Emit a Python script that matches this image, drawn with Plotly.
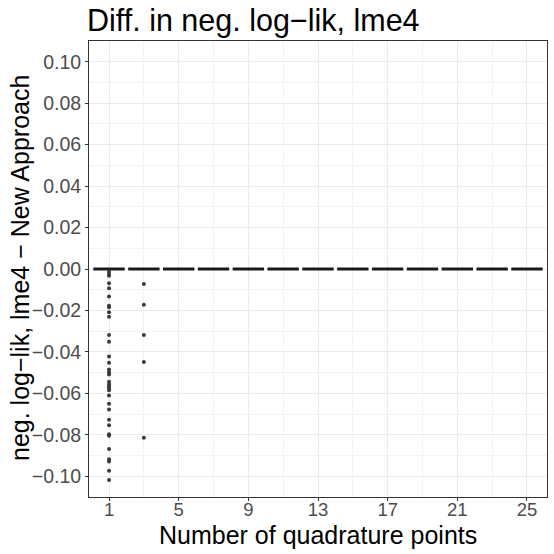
import plotly.graph_objects as go

# quadrature point groups (boxes)
quad_points = [1, 3, 5, 7, 9, 11, 13, 15, 17, 19, 21, 23, 25]
box_q1 = [0.0] * 13
box_median = [0.0] * 13
box_q3 = [0.0] * 13
box_lower = [0.0] * 13
box_upper = [0.0] * 13

# outliers
outliers_q1 = [-0.0013, -0.0024, -0.0032, -0.0069, -0.0093, -0.0133, -0.0177, -0.0185,
               -0.0209, -0.0230, -0.0319, -0.0351, -0.0422, -0.0452, -0.0485, -0.0498,
               -0.0509, -0.0544, -0.0556, -0.0566, -0.0577, -0.0585, -0.0610, -0.0650,
               -0.0678, -0.0727, -0.0754, -0.0797, -0.0805, -0.0868, -0.0918, -0.0929,
               -0.0973, -0.1018]
outliers_q3 = [-0.0072, -0.0172, -0.0319, -0.0449, -0.0814]

y_tickvals = [-0.10, -0.08, -0.06, -0.04, -0.02, 0.0, 0.02, 0.04, 0.06, 0.08, 0.10]
y_ticktext = ["\u22120.10", "\u22120.08", "\u22120.06", "\u22120.04", "\u22120.02", "0.00",
              "0.02", "0.04", "0.06", "0.08", "0.10"]
x_tickvals = [1, 5, 9, 13, 17, 21, 25]

fig = go.Figure()
fig.add_trace(go.Box(
    x=quad_points, q1=box_q1, median=box_median, q3=box_q3,
    lowerfence=box_lower, upperfence=box_upper,
    width=1.8, boxpoints=False,
    line=dict(color="#1a1a1a", width=3), fillcolor="white",
    whiskerwidth=0, showlegend=False,
))
fig.add_trace(go.Scatter(
    x=[1] * len(outliers_q1) + [3] * len(outliers_q3),
    y=outliers_q1 + outliers_q3,
    mode="markers",
    marker=dict(color="#3a3a3a", size=4),
    showlegend=False,
))

font_family = "Liberation Sans, Arial, sans-serif"
W, H = 554, 554
ML, MR, MT, MB = 89, 7, 41, 57
fig.update_layout(
    width=W, height=H,
    margin=dict(l=ML, r=MR, t=MT, b=MB, autoexpand=False),
    paper_bgcolor="white", plot_bgcolor="white",
    font=dict(family=font_family, color="black"),
    title=dict(text="Diff. in neg. log\u2212lik, lme4", x=87 / W, xref="container",
               xanchor="left", y=1 - 20 / H, yref="container", yanchor="middle",
               font=dict(size=30.5, color="black")),
    xaxis=dict(
        range=[-0.15, 26.15], tickvals=x_tickvals, ticks="outside", ticklen=3,
        tickcolor="#333333", tickfont=dict(size=18.5, color="#4d4d4d"),
        ticklabelstandoff=-7,
        showgrid=True, gridcolor="#ebebeb", gridwidth=1,
        minor=dict(dtick=2, tick0=1, showgrid=True, gridcolor="#f3f3f3", gridwidth=0.6),
        showline=True, linecolor="#333333", linewidth=1, mirror=True, zeroline=False,
        automargin=False,
    ),
    yaxis=dict(
        range=[-0.110, 0.110], tickvals=y_tickvals, ticktext=y_ticktext, ticks="outside",
        ticklen=3, tickcolor="#333333", tickfont=dict(size=19.5, color="#4d4d4d"),
        showgrid=True, gridcolor="#ebebeb", gridwidth=1,
        minor=dict(dtick=0.01, tick0=0.01, showgrid=True, gridcolor="#f3f3f3", gridwidth=0.6),
        showline=True, linecolor="#333333", linewidth=1, mirror=True, zeroline=False,
        automargin=False,
    ),
    annotations=[
        dict(text="Number of quadrature points", xref="paper", yref="paper",
             x=0.5, y=0, yshift=-(535 - (H - MB)), xanchor="center", yanchor="middle",
             showarrow=False, font=dict(size=25, color="black")),
        dict(text="neg. log\u2212lik, lme4 \u2212 New Approach", xref="paper", yref="paper",
             x=0, xshift=-(ML - 20), y=0.5, yshift=1, xanchor="center", yanchor="middle",
             textangle=-90, showarrow=False, font=dict(size=25, color="black")),
    ],
)
fig.write_html("out.html", config={"displayModeBar": False},
               post_script="document.body.style.margin='0';")
